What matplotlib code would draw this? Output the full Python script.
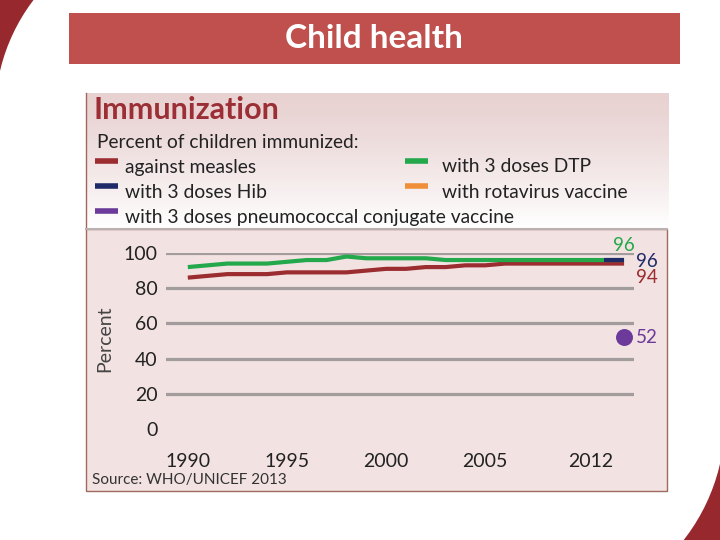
import numpy as np
import matplotlib
matplotlib.use("Agg")
import matplotlib.pyplot as plt
from matplotlib.patches import Rectangle, Circle

plt.rcParams['font.family'] = ['Lato', 'DejaVu Sans']

# data
years = list(range(1990, 2013))
dtp3 = [92, 93, 94, 94, 94, 95, 96, 96, 98, 97, 97, 97, 97, 96, 96, 96,
        96, 96, 96, 96, 96, 96, 96]
measles = [86, 87, 88, 88, 88, 89, 89, 89, 89, 90, 91, 91, 92, 92, 93, 93,
           94, 94, 94, 94, 94, 94, 94]
hib_years = [2011, 2012]
hib = [96, 96]
pcv_year = [2012]
pcv = [52]

yticks = [0, 20, 40, 60, 80, 100]
xtick_pos = [1990, 1995, 2000, 2005, 2010.3]
xtick_labels = ['1990', '1995', '2000', '2005', '2012']

legend_items = [('against measles', '#9b2c2f'), ('with 3 doses DTP', '#23a84b'),
                ('with 3 doses Hib', '#1f2a68'), ('with rotavirus vaccine', '#ef8f3a'),
                ('with 3 doses pneumococcal conjugate vaccine', '#6b3a9a')]

W, H = 720, 540
fig = plt.figure(figsize=(7.2, 5.4), dpi=100)

# background / decorations in pixel coordinates
bg = fig.add_axes([0, 0, 1, 1], zorder=0)
bg.set_xlim(0, W)
bg.set_ylim(H, 0)
bg.axis('off')

darkred = '#97282e'
bg.add_patch(Rectangle((0, 0), 60, 90, color=darkred, lw=0))
bg.add_patch(Circle((183, 114), 188, color='white', lw=0))
bg.add_patch(Rectangle((650, 440), 70, 100, color=darkred, lw=0))
bg.add_patch(Circle((530, 420), 195, color='white', lw=0))

# title banner
bg.add_patch(Rectangle((69, 13), 611, 51, color='#c0504d', lw=0))
bg.text(374, 39, 'Child health', color='white', fontsize=24, fontweight='bold',
        ha='center', va='center')

# header panel with pink-to-white gradient
grad = np.linspace(0, 1, 100).reshape(-1, 1)
top = np.array([0.91, 0.82, 0.82])
bot = np.array([1.0, 1.0, 1.0])
img = top + (bot - top) * grad[:, :, None] ** 1.3
bg.imshow(img, extent=(86, 669, 228, 93), aspect='auto', zorder=1)
bg.plot([86, 86], [93, 228], color='#a0675c', lw=1, zorder=2)

bg.text(94, 110, 'Immunization', color='#9b2f35', fontsize=22, fontweight='bold',
        ha='left', va='center', zorder=3)
bg.text(97, 142, 'Percent of children immunized:', color='#222222', fontsize=13.8,
        ha='left', va='center', zorder=3)

leg_pos = [(95, 167, 125), (405, 167, 442), (95, 192, 125), (405, 192, 442), (95, 217, 125)]
for (label, col), (lx, ly, tx) in zip(legend_items, leg_pos):
    bg.plot([lx, lx + 23], [ly - 6, ly - 6], color=col, lw=4, solid_capstyle='butt', zorder=3)
    bg.text(tx, ly, label, color='#222222', fontsize=13.9, ha='left', va='center', zorder=3)

# plot panel
bg.add_patch(Rectangle((86, 229), 581, 262, facecolor='#f2e2e2', edgecolor='#9e6b5e',
                       lw=1, zorder=1))
bg.plot([86, 667], [229, 229], color='#b9b0b0', lw=1.5, zorder=2)
bg.text(92, 480, 'Source: WHO/UNICEF 2013', color='#333333', fontsize=11,
        ha='left', va='center', zorder=3)
bg.text(105, 339, 'Percent', color='#444444', fontsize=14, rotation=90,
        ha='center', va='center', zorder=3)

# chart axes
ax = fig.add_axes([166 / W, 111 / H, 468 / W, 176 / H], zorder=2)
ax.patch.set_alpha(0)
ax.set_xlim(1988.9, 2012.5)
ax.set_ylim(0, 100)
for s in ax.spines.values():
    s.set_visible(False)

for yv in yticks[1:]:
    ax.axhline(yv, color='#a29c9c', lw=2.3, zorder=1)

ax.plot(years, measles, color='#9b2c2f', lw=3, zorder=3, solid_capstyle='butt')
ax.plot(years, dtp3, color='#23a84b', lw=3, zorder=4, solid_capstyle='butt')
ax.plot(hib_years, hib, color='#1f2a68', lw=3, zorder=5, solid_capstyle='butt')
ax.scatter(pcv_year, pcv, s=125, color='#6b3a9a', zorder=6, clip_on=False)

ax.set_yticks(yticks)
ax.set_yticklabels([str(v) for v in yticks])
ax.set_xticks(xtick_pos)
ax.set_xticklabels(xtick_labels)
ax.tick_params(axis='y', length=0, pad=6, labelsize=14, labelcolor='#222222')
ax.tick_params(axis='x', length=0, pad=17, labelsize=14, labelcolor='#222222')

# end labels
ax.text(2012, dtp3[-1] + 8, '96', color='#23a84b', fontsize=13.5, ha='center', va='center',
        clip_on=False)
ax.text(2012.6, hib[-1] - 1, '96', color='#1f2a68', fontsize=13.5, ha='left', va='center',
        clip_on=False)
ax.text(2012.6, measles[-1] - 8, '94', color='#9b2c2f', fontsize=13.5, ha='left', va='center',
        clip_on=False)
ax.text(2012.6, pcv[-1], '52', color='#6b3a9a', fontsize=13.5, ha='left', va='center',
        clip_on=False)

fig.savefig('out.png', dpi=100)
